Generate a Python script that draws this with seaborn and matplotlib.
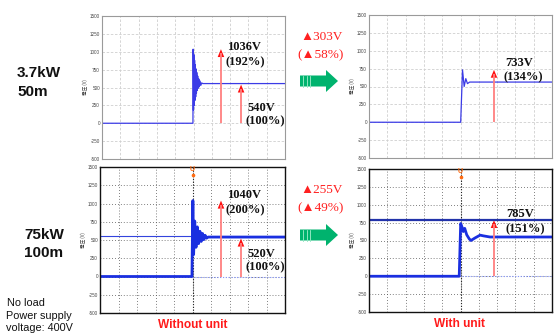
import matplotlib
matplotlib.use("Agg")
import matplotlib.pyplot as plt
from matplotlib.patches import Polygon
import pandas as pd
import seaborn as sns

# Surge waveforms: time in scope divisions, voltage in V
tl_t = [0, 4.97, 4.98, 5.00, 5.02, 5.04, 5.06, 5.08, 5.10, 5.12, 5.14, 5.16,
        5.18, 5.20, 5.23, 5.26, 5.29, 5.32, 5.36, 5.40, 5.45, 5.50, 10]
tl_v = [0, 0, 1036, 180, 960, 250, 880, 320, 820, 370, 760, 420,
        710, 460, 660, 490, 620, 510, 590, 530, 565, 555, 555]

tr_t = [0, 5.01, 5.11, 5.20, 5.29, 5.38, 5.50, 10]
tr_v = [0, 0, 733, 500, 610, 540, 562, 562]

bl_t = [0, 4.97, 5.02, 5.06, 5.12, 5.19, 5.26, 5.33, 5.40, 5.47, 5.54,
        5.61, 5.68, 5.76, 5.85, 10]
bl_v = [0, 0, 1040, 300, 760, 400, 680, 450, 620, 480, 590,
        505, 565, 525, 540, 540]

br_t = [0, 4.93, 5.01, 5.08, 5.15, 5.23, 5.34, 5.48, 5.57, 5.79, 6.07,
        6.25, 6.61, 10]
br_v = [0, 0, 737, 690, 625, 670, 580, 522, 500, 535, 575,
        565, 549, 549]

# Measured peaks marked by arrows: (position, voltage)
tl_marks = [(6.50, 1036), (7.60, 540)]
tr_marks = [(6.83, 733)]
bl_marks = [(6.54, 1040), (7.62, 520)]
br_marks = [(6.83, 785)]

bl_cursor = 555
br_cursor = 785

y_ticks = [-500, -250, 0, 250, 500, 750, 1000, 1250, 1500]

sns.set_style("white")
plt.rcParams['font.family'] = ['Liberation Sans', 'DejaVu Sans']

W, H = 558, 336
fig = plt.figure(figsize=(W / 100, H / 100), dpi=100)


def box(x0, y0, x1, y1):
    return [x0 / W, 1 - y1 / H, (x1 - x0) / W, (y1 - y0) / H]


def scope_axes(rect, digital):
    ax = fig.add_axes(rect)
    ax.set_xlim(0, 10)
    ax.set_ylim(-500, 1500)
    ax.set_xticks(range(11))
    ax.set_xticklabels([])
    ax.set_yticks(y_ticks)
    ax.set_yticklabels([str(v) for v in y_ticks])
    ax.tick_params(labelsize=3.3, length=0, pad=1.5, colors='#444444')
    ax.set_ylabel('電圧 (V)', fontsize=3.3, family=['Noto Sans CJK JP'],
                  labelpad=1.5, color='#444444')
    if digital:
        ax.grid(True, color='#555555', ls=(0, (1, 2.5)), lw=0.6)
        ax.axvline(5, color='#222222', ls=(0, (1, 1.5)), lw=0.8)
        for s in ax.spines.values():
            s.set_color('#111111')
            s.set_linewidth(1.0)
    else:
        ax.grid(True, color='#cfcfcf', ls=(0, (3, 2)), lw=0.6)
        for s in ax.spines.values():
            s.set_color('#9a9a9a')
            s.set_linewidth(0.8)
    ax.set_axisbelow(True)
    return ax


def trace(ax, t, v, color, lw):
    df = pd.DataFrame({'t': t, 'v': v})
    sns.lineplot(data=df, x='t', y='v', ax=ax, color=color, lw=lw,
                 estimator=None, sort=False, legend=False)
    ax.set_xlabel('')


def peak_arrows(ax, marks, head_v):
    for x, v in marks:
        ax.plot([x, x], [0, v - head_v * 0.5], color='#ff7f7f', lw=1.3,
                solid_capstyle='butt')
        ax.add_patch(Polygon([(x - 0.18, v - head_v), (x + 0.18, v - head_v),
                              (x, v)], closed=True, color='#ff1010', lw=0))


def trigger_mark(ax):
    ax.text(5, 1470, 'U', fontsize=5, fontweight='bold', color='#ff6a10',
            ha='center', va='center', clip_on=False)
    ax.plot([5], [1395], marker='o', ms=1.6, color='#ff6a10', clip_on=False)


ax_tl = scope_axes(box(102, 16, 285, 159), False)
trace(ax_tl, tl_t, tl_v, '#3b3be6', 0.9)
peak_arrows(ax_tl, tl_marks, 110)

ax_tr = scope_axes(box(369, 15, 552, 158), False)
trace(ax_tr, tr_t, tr_v, '#3b3be6', 0.9)
peak_arrows(ax_tr, tr_marks, 110)

ax_bl = scope_axes(box(100, 167, 285, 313), True)
ax_bl.axhline(bl_cursor, color='#3344dd', lw=0.8)
ax_bl.plot([4.97, 10], [0, 0], color='#8899ff', ls=(0, (1, 1.5)), lw=0.8)
trace(ax_bl, bl_t, bl_v, '#1a2fe0', 2.0)
peak_arrows(ax_bl, bl_marks, 110)
trigger_mark(ax_bl)

ax_br = scope_axes(box(369, 169, 552, 312), True)
ax_br.axhline(br_cursor, color='#2233aa', lw=1.6)
ax_br.plot([4.93, 10], [0, 0], color='#8899ff', ls=(0, (1, 1.5)), lw=0.8)
trace(ax_br, br_t, br_v, '#1a2fe0', 2.0)
peak_arrows(ax_br, br_marks, 110)
trigger_mark(ax_br)

# Overlay in pixel units for labels and the block arrows
ov = fig.add_axes([0, 0, 1, 1], zorder=10)
ov.set_xlim(0, W)
ov.set_ylim(H, 0)
ov.axis('off')
ov.patch.set_alpha(0)

serif = ['Liberation Serif', 'DejaVu Serif']
ann = dict(family=serif, fontweight='bold', fontsize=9, color='#111111',
           ha='left', va='center')
ov.text(227, 47, '1036V', **ann)
ov.text(226, 62, '(192%)', **ann)
ov.text(247, 108, '540V', **ann)
ov.text(246, 121, '(100%)', **ann)
ov.text(505, 63, '733V', **ann)
ov.text(503, 77, '(134%)', **ann)
ov.text(227, 195, '1040V', **ann)
ov.text(226, 210, '(200%)', **ann)
ov.text(247, 254, '520V', **ann)
ov.text(246, 267, '(100%)', **ann)
ov.text(506, 214, '785V', **ann)
ov.text(505, 229, '(151%)', **ann)

red = dict(family=serif, fontsize=9.5, color='#ff2020', ha='center',
           va='center')
ov.text(322, 37, '▲303V', **red)
ov.text(321, 55, '(▲58%)', **red)
ov.text(322, 190, '▲255V', **red)
ov.text(321, 208, '(▲49%)', **red)


def block_arrow(cy):
    pts = [(300, cy - 5.5), (326, cy - 5.5), (326, cy - 11), (338, cy),
           (326, cy + 11), (326, cy + 5.5), (300, cy + 5.5)]
    ov.add_patch(Polygon(pts, closed=True, color='#00b36e', lw=0))
    for sx in (303, 306.5, 310):
        ov.plot([sx, sx], [cy - 5.5, cy + 5.5], color='#8fe6c0', lw=0.7)


block_arrow(81)
block_arrow(235)

big = dict(fontsize=11, fontweight='bold', color='#111111', va='center')
ov.text(17, 73, '3.7kW', ha='left', **big)
ov.text(17, 92, '50m', ha='left', **big)
ov.text(44, 235, '75kW', ha='center', **big)
ov.text(44, 253, '100m', ha='center', **big)

note = dict(fontsize=7.8, color='#111111', va='center', ha='left')
ov.text(7, 303, 'No load', **note)
ov.text(6, 316, 'Power supply', **note)
ov.text(6, 328, 'voltage: 400V', **note)

cap = dict(fontsize=8.6, fontweight='bold', color='#ff1a1a', va='center',
           ha='center')
ov.text(193, 325, 'Without unit', **cap)
ov.text(460, 324, 'With unit', **cap)

fig.savefig('out.png', dpi=100)
